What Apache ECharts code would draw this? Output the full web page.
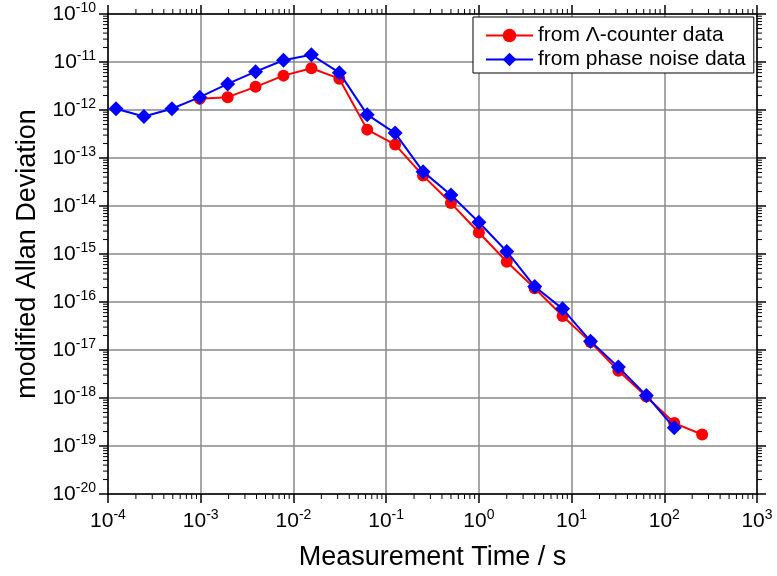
<!DOCTYPE html>
<html>
<head>
<meta charset="utf-8">
<script src="https://cdn.jsdelivr.net/npm/echarts@6/dist/echarts.min.js"></script>
<style>
html,body{margin:0;padding:0;background:#fff}
#chart{width:777px;height:576px}
</style>
</head>
<body>
<div id="chart"></div>
<script>
// averaging times (s), doubling steps
var tauBlue = [0.00012207, 0.00024414, 0.00048828, 0.00097656, 0.0019531, 0.0039063, 0.0078125,
	0.015625, 0.03125, 0.0625, 0.125, 0.25, 0.5, 1, 2, 4, 8, 16, 32, 64, 128];
var adevBlue = [1.06e-12, 7.3e-13, 1.06e-12, 1.85e-12, 3.5e-12, 6.3e-12, 1.09e-11,
	1.41e-11, 6.0e-12, 8.0e-13, 3.3e-13, 5.2e-14, 1.7e-14, 4.6e-15, 1.13e-15, 2.1e-16, 7.2e-17,
	1.53e-17, 4.4e-18, 1.13e-18, 2.4e-19];

var tauRed = [0.00097656, 0.0019531, 0.0039063, 0.0078125, 0.015625, 0.03125, 0.0625, 0.125,
	0.25, 0.5, 1, 2, 4, 8, 16, 32, 64, 128, 256];
var adevRed = [1.71e-12, 1.85e-12, 3.04e-12, 5.2e-12, 7.4e-12, 4.5e-12, 3.9e-13, 1.9e-13,
	4.3e-14, 1.15e-14, 2.8e-15, 6.9e-16, 1.94e-16, 5.1e-17, 1.46e-17, 3.7e-18, 1.07e-18, 3.0e-19, 1.74e-19];

var nameRed = 'from \u039B-counter data';
var nameBlue = 'from phase noise data';

var xMin = 1e-4, xMax = 1e3;
var yMin = 1e-20, yMax = 1e-10;
var minorSteps = [2, 3, 4, 5, 6, 7, 8, 9];

var FONT = 'Liberation Sans, Arial, sans-serif';

function zip(a, b) {
	var out = [];
	for (var i = 0; i < a.length; i++) out.push([a[i], b[i]]);
	return out;
}

// minor tick positions between decades
var xMinor = [], yMinor = [];
for (var d = -4; d < 3; d++) {
	minorSteps.forEach(function(m) { xMinor.push([m * Math.pow(10, d), yMin]); });
}
for (var e = -20; e < -10; e++) {
	minorSteps.forEach(function(m) { yMinor.push([xMin, m * Math.pow(10, e)]); });
}

function powLabel(v) {
	if (!(v > 0)) return '';
	var p = Math.round(Math.log10(v));
	return '{b|10}{s|' + p + '}';
}

var labelRich = {
	b: {fontSize: 21, fontFamily: FONT, color: '#000', lineHeight: 26},
	s: {fontSize: 14, fontFamily: FONT, color: '#000', lineHeight: 14, verticalAlign: 'top'}
};

function tickLine(x1, y1, x2, y2) {
	return {type: 'line', shape: {x1: x1, y1: y1, x2: x2, y2: y2}, style: {stroke: '#000', lineWidth: 1}};
}

var axisBase = {
	axisLine: {show: true, lineStyle: {color: '#000', width: 1.5}},
	axisTick: {show: true, inside: false, length: 9, lineStyle: {color: '#000', width: 1.5}}
};

var chart = echarts.init(document.getElementById('chart'));
chart.setOption({
	animation: false,
	backgroundColor: '#fff',
	grid: {left: 108, right: 20, top: 14, bottom: 82, containLabel: false},
	legend: {
		data: [nameRed, nameBlue],
		orient: 'vertical',
		left: 473, top: 17,
		padding: [8, 8, 3, 12],
		itemGap: 3,
		itemWidth: 47, itemHeight: 17,
		borderColor: '#000', borderWidth: 1,
		backgroundColor: '#fff',
		textStyle: {fontSize: 21, fontFamily: FONT, color: '#000'}
	},
	xAxis: [
		Object.assign({}, axisBase, {
			type: 'log', logBase: 10, min: xMin, max: xMax, splitNumber: 7, position: 'bottom',
			axisLabel: {formatter: powLabel, margin: 14, rich: labelRich},
			splitLine: {show: true, lineStyle: {color: '#888', width: 1.5}},
			name: 'Measurement Time / s', nameLocation: 'middle', nameGap: 50,
			nameTextStyle: {fontSize: 27, fontFamily: FONT, color: '#000'}
		}),
		Object.assign({}, axisBase, {
			type: 'log', logBase: 10, min: xMin, max: xMax, splitNumber: 7, position: 'top',
			axisLabel: {show: false}, splitLine: {show: false}
		})
	],
	yAxis: [
		Object.assign({}, axisBase, {
			type: 'log', logBase: 10, min: yMin, max: yMax, interval: 1, position: 'left',
			axisLabel: {formatter: powLabel, margin: 12, rich: labelRich},
			splitLine: {show: true, lineStyle: {color: '#888', width: 1.5}},
			name: 'modified Allan Deviation', nameLocation: 'middle', nameGap: 64,
			nameTextStyle: {fontSize: 27, fontFamily: FONT, color: '#000'}
		}),
		Object.assign({}, axisBase, {
			type: 'log', logBase: 10, min: yMin, max: yMax, interval: 1, position: 'right',
			axisLabel: {show: false}, splitLine: {show: false}
		})
	],
	series: [
		{
			name: nameRed, type: 'line', data: zip(tauRed, adevRed),
			symbol: 'circle', symbolSize: 12,
			lineStyle: {color: '#ff0000', width: 2},
			itemStyle: {color: '#ff0000'}, z: 3
		},
		{
			name: nameBlue, type: 'line', data: zip(tauBlue, adevBlue),
			symbol: 'diamond', symbolSize: 15,
			lineStyle: {color: '#0000ff', width: 2},
			itemStyle: {color: '#0000ff'}, z: 4
		},
		{
			type: 'custom', silent: true, clip: false, z: 5,
			encode: {x: 0, y: 1},
			data: xMinor,
			renderItem: function(params, api) {
				var v = api.value(0);
				var b = api.coord([v, yMin]);
				var t = api.coord([v, yMax]);
				return {type: 'group', children: [
					tickLine(b[0], b[1], b[0], b[1] + 5),
					tickLine(t[0], t[1], t[0], t[1] - 5)
				]};
			}
		},
		{
			type: 'custom', silent: true, clip: false, z: 5,
			encode: {x: 0, y: 1},
			data: yMinor,
			renderItem: function(params, api) {
				var v = api.value(1);
				var l = api.coord([xMin, v]);
				var r = api.coord([xMax, v]);
				return {type: 'group', children: [
					tickLine(l[0], l[1], l[0] - 5, l[1]),
					tickLine(r[0], r[1], r[0] + 5, r[1])
				]};
			}
		}
	]
});
</script>
</body>
</html>
